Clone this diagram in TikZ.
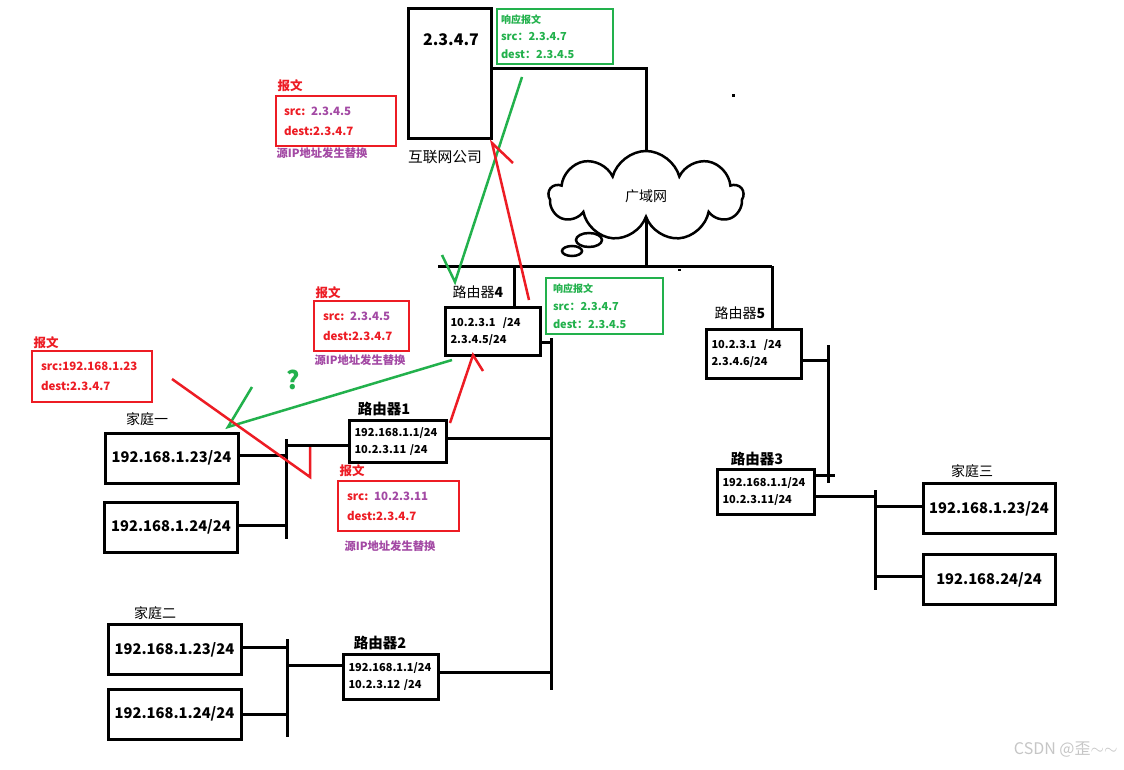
\documentclass[tikz,border=0pt]{standalone}
\usepackage{fontspec}
\setmainfont{Noto Sans CJK SC}
\usetikzlibrary{shapes.symbols}
\definecolor{msgred}{RGB}{237,28,36}
\definecolor{msggreen}{RGB}{34,177,76}
\definecolor{msgpurple}{RGB}{163,73,164}

\begin{document}
\begin{tikzpicture}[x=1pt, y=-1pt,
  wire/.style={line width=3pt},
  hostbox/.style={draw, line width=3pt, minimum width=133pt, minimum height=50pt, inner sep=0pt,
    font=\bfseries\fontsize{14.7}{18}\selectfont},
  routerbox/.style={draw, line width=3pt, anchor=north west, align=left, inner xsep=5pt, inner ysep=0pt,
    font=\bfseries\fontsize{11}{17}\selectfont},
  msgbox/.style={draw, line width=2pt, anchor=north west, align=left, inner xsep=8pt, inner ysep=0pt,
    font=\bfseries\fontsize{11.5}{20}\selectfont},
  tag/.style={font=\fontsize{14}{16}\selectfont},
  redtag/.style={msgred, font=\bfseries\fontsize{12.5}{14}\selectfont},
  swaptag/.style={msgpurple, font=\bfseries\fontsize{11.3}{13}\selectfont},
  redstroke/.style={msgred, line width=2.5pt},
  greenstroke/.style={msggreen, line width=2.5pt}]
  \fill[white] (0,0) rectangle (1124,770);
  \useasboundingbox (0,0) rectangle (1124,770);

  % internet company and wide area network
  \node[draw, line width=3pt, minimum width=83pt, minimum height=130pt] (inet) at (449.5,74) {};
  \node[font=\bfseries\fontsize{16}{18}\selectfont] (inetip) at (451,40) {2.3.4.7};
  \node[tag, font=\fontsize{14.8}{16}\selectfont] (inetlbl) at (445,157) {互联网公司};
  \node[cloud, draw, line width=2.5pt, cloud puffs=9, aspect=2.1, minimum width=194pt, minimum height=90pt,
    inner sep=0pt, font=\fontsize{14}{16}\selectfont] (wan) at (646,196) {广域网};
  \draw[line width=2.5pt] (589,240) ellipse (13 and 7);
  \draw[line width=2.5pt] (572,251) ellipse (10 and 5);

  \draw[wire] ([yshift=5pt]inet.east) -| (wan.north);
  \coordinate (wanbusL) at (438,266);
  \coordinate (wanbusR) at (772,266);
  \draw[wire] (wanbusL) -- (wanbusR);
  \draw[wire] (wan.south) -- (wan.south |- wanbusL);

  % routers
  \node[routerbox, text width=85pt, minimum height=48pt] (r4) at (444,306) {10.2.3.1\ \ /24\\2.3.4.5/24};
  \node[tag] (r4lbl) at (478,292) {路由器\textbf{4}};
  \node[routerbox, text width=85pt, minimum height=49pt] (r5) at (705,328) {10.2.3.1\ \ /24\\2.3.4.6/24};
  \node[tag] (r5lbl) at (740,313) {路由器\textbf{5}};
  \node[routerbox, text width=87pt, minimum height=42pt] (r1) at (348,419) {192.168.1.1/24\\10.2.3.11\ /24};
  \node[tag, font=\bfseries\fontsize{14.5}{16}\selectfont] (r1lbl) at (384,409) {路由器1};
  \node[routerbox, text width=85pt, minimum height=45pt] (r2) at (342,653) {192.168.1.1/24\\10.2.3.12\ /24};
  \node[tag, font=\bfseries\fontsize{14.5}{16}\selectfont] (r2lbl) at (380,643) {路由器2};
  \node[routerbox, text width=87pt, minimum height=45pt] (r3) at (716,468) {192.168.1.1/24\\10.2.3.11/24};
  \node[tag, font=\bfseries\fontsize{14.5}{16}\selectfont] (r3lbl) at (757,459) {路由器3};

  % homes
  \node[hostbox] (h1a) at (171.5,458) {192.168.1.23/24};
  \node[hostbox] (h1b) at (171,527) {192.168.1.24/24};
  \node[tag] (h1lbl) at (147,419) {家庭一};
  \node[hostbox] (h2a) at (174.5,649.5) {192.168.1.23/24};
  \node[hostbox] (h2b) at (174.5,714) {192.168.1.24/24};
  \node[tag] (h2lbl) at (155,613) {家庭二};
  \node[hostbox, minimum width=132pt] (h3a) at (989,508.5) {192.168.1.23/24};
  \node[hostbox, minimum width=132pt] (h3b) at (989,579.5) {192.168.24/24};
  \node[tag] (h3lbl) at (972,471) {家庭三};

  % buses
  \coordinate (lanbusT) at (551,338);
  \coordinate (lanbusB) at (551,690);
  \draw[wire] (lanbusT) -- (lanbusB);
  \coordinate (h1busT) at (286,439);
  \coordinate (h1busB) at (286,539);
  \draw[wire] (h1busT) -- (h1busB);
  \coordinate (h2busT) at (287,639);
  \coordinate (h2busB) at (287,737);
  \draw[wire] (h2busT) -- (h2busB);
  \coordinate (r5busT) at (828,345);
  \coordinate (r5busB) at (828,483);
  \draw[wire] (r5busT) -- (r5busB);
  \coordinate (h3busT) at (875,490);
  \coordinate (h3busB) at (875,590);
  \draw[wire] (h3busT) -- (h3busB);

  % links
  \draw[wire] ([xshift=21.5pt]r4.north) -- ([xshift=21.5pt]r4.north |- wanbusL);
  \draw[wire] (wanbusR) -- (wanbusR |- r5.north);
  \draw[wire] ([yshift=-11pt]r4.east) -- ([yshift=-11pt]r4.east -| lanbusT);
  \draw[wire] ([yshift=3pt]r1.east) -- ([yshift=3pt]r1.east -| lanbusT);
  \draw[wire] ([yshift=4.5pt]r2.east) -- ([yshift=4.5pt]r2.east -| lanbusT);
  \draw[wire] ([yshift=-4pt]r1.west) -- ([yshift=-4pt]r1.west -| h1busT);
  \draw[wire] ([yshift=3pt]h1a.east) -- ([yshift=3pt]h1a.east -| h1busT);
  \draw[wire] ([yshift=2pt]h1b.east) -- ([yshift=2pt]h1b.east -| h1busT);
  \draw[wire] ([yshift=11.5pt]r2.west) -- ([yshift=11.5pt]r2.west -| h2busT);
  \draw[wire] ([yshift=2.5pt]h2a.east) -- ([yshift=2.5pt]h2a.east -| h2busT);
  \draw[wire] (h2b.east) -- (h2b.east -| h2busT);
  \draw[wire] ([yshift=-6.5pt]r5.east) -- ([yshift=-6.5pt]r5.east -| r5busT);
  \draw[wire] ([yshift=16.5pt]r3.east) -- ++(19,0);
  \draw[wire] ([yshift=-4.5pt]r3.east) -- ([yshift=-4.5pt]r3.east -| h3busT);
  \draw[wire] ([yshift=2.5pt]h3a.west) -- ([yshift=2.5pt]h3a.west -| h3busT);
  \draw[wire] ([yshift=3.5pt]h3b.west) -- ([yshift=3.5pt]h3b.west -| h3busT);

  % messages
  \node[msgbox, msggreen, text width=108pt, minimum height=55pt, inner xsep=4pt,
    font=\bfseries\fontsize{11}{17.5}\selectfont] (g1) at (496,8)
    {{\fontsize{10}{17.5}\selectfont 响应报文}\\src：2.3.4.7\\dest：2.3.4.5};
  \node[msgbox, msggreen, text width=103pt, minimum height=56pt, inner xsep=7pt,
    font=\bfseries\fontsize{11}{18}\selectfont] (g2) at (545,277)
    {{\fontsize{10}{18}\selectfont 响应报文}\\src：2.3.4.7\\dest：2.3.4.5};
  \node[msgbox, msgred, text width=104pt, minimum height=50pt] (m1) at (275,95)
    {src: \textcolor{msgpurple}{2.3.4.5}\\dest:2.3.4.7};
  \node[redtag] (m1lbl) at (290,86) {报文};
  \node[swaptag] (m1swap) at (322,153) {源IP地址发生替换};
  \node[msgbox, msgred, text width=77pt, minimum height=50pt, inner xsep=9pt] (m2) at (313,300)
    {src: \textcolor{msgpurple}{2.3.4.5}\\dest:2.3.4.7};
  \node[redtag] (m2lbl) at (328,293) {报文};
  \node[swaptag] (m2swap) at (360,360) {源IP地址发生替换};
  \node[msgbox, msgred, text width=102pt, minimum height=51pt, inner xsep=9pt] (m3) at (31,350)
    {src:192.168.1.23\\dest:2.3.4.7};
  \node[redtag] (m3lbl) at (46,343) {报文};
  \node[msgbox, msgred, text width=103pt, minimum height=50pt, inner xsep=9pt] (m4) at (337,480)
    {src: \textcolor{msgpurple}{10.2.3.11}\\dest:2.3.4.7};
  \node[redtag] (m4lbl) at (352,471) {报文};
  \node[swaptag] (m4swap) at (390,546) {源IP地址发生替换};

  % hand drawn strokes
  \draw[greenstroke] (522,77) -- (455,282) -- (442,255);
  \draw[redstroke] (529,300) -- (492,143) -- (513,163);
  \draw[greenstroke] (452,360) -- (228,427) -- (252,387);
  \draw[redstroke] (450,423) -- (473,355) -- (483,371);
  \draw[redstroke] (172,379) -- (310,477) -- (310,447);
  \node[msggreen, font=\bfseries\fontsize{25}{28}\selectfont] (qmark) at (293,380) {?};

  \fill (732,94) rectangle (735,97);
  \fill (678,269) rectangle (681,270.5);
  \node[gray!45, font=\fontsize{16}{18}\selectfont, anchor=east] (mark) at (1121,750) {CSDN @歪$\sim\sim$};
\end{tikzpicture}
\end{document}
